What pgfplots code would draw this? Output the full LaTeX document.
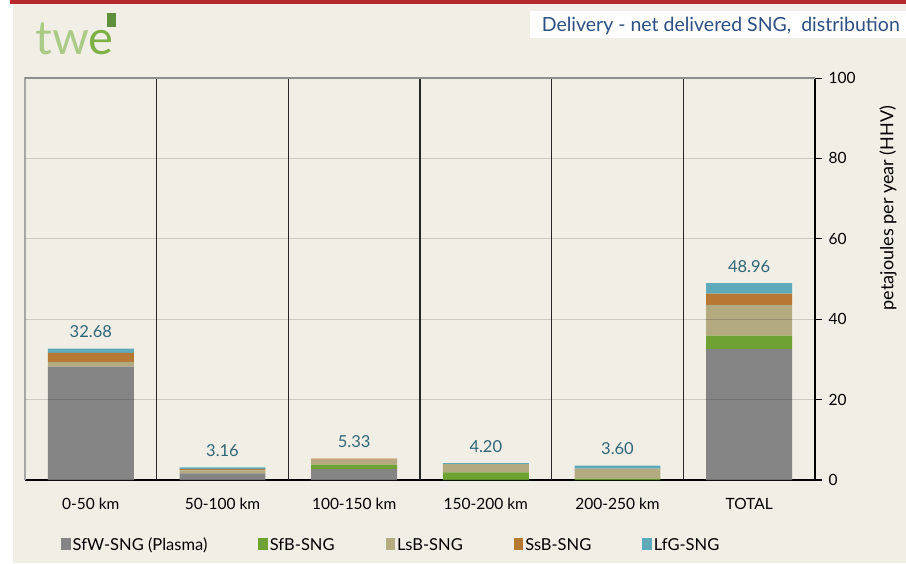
\documentclass[border=0pt]{standalone}
\usepackage{pgfplots}
\pgfplotsset{compat=1.18}
\usepackage{pgfplotstable}
\usepackage{fontspec}
\setmainfont{Lato}

\definecolor{bg}{HTML}{F1EEE6}
\definecolor{topred}{HTML}{B5282B}
\definecolor{logolight}{HTML}{AACB85}
\definecolor{logodark}{HTML}{7DB045}
\definecolor{logocube}{HTML}{5E8F3A}
\definecolor{titleblue}{HTML}{2D4F82}
\definecolor{valblue}{HTML}{2F6678}
\definecolor{sfw}{HTML}{858585}
\definecolor{sfb}{HTML}{6EA232}
\definecolor{lsb}{HTML}{B3AA80}
\definecolor{ssb}{HTML}{B77833}
\definecolor{lfg}{HTML}{5EA9BA}

\tikzset{valnode/.style={anchor=base, inner sep=0, text=valblue,
    font=\fontsize{16.5}{16.5}\selectfont, yshift=11pt}}

% net delivered SNG, PJ/yr (HHV); x = 0..4 distance bands, 5 = total
\pgfplotstableread{
x SfW   SfB  LsB  SsB  LfG
0 28.20 0    1.15 2.25 1.08
1 1.65  0    0.75 0.30 0.46
2 2.70  1.10 1.25 0.28 0
3 0     1.90 2.05 0    0.25
4 0     0.35 2.45 0    0.80
5 32.55 3.35 7.65 2.83 2.58
}\sngtable

\begin{document}
\begin{tikzpicture}[x=1pt,y=1pt]
\path[use as bounding box] (0,0) rectangle (906,563);
\fill[white] (0,0) rectangle (906,563);
\fill[bg] (13,0) rectangle (906,560);
\fill[topred] (10,559) rectangle (906,563);

% logo
\node[anchor=base west, inner sep=0, text=logolight,
      font=\fontsize{47}{47}\selectfont] at (35,508) {tw\textcolor{logodark}{e}};
\fill[logocube] (107,536) rectangle (116,550);

% title box
\fill[white] (530,525) rectangle (906,552);
\node[anchor=base east, inner sep=0, text=titleblue,
      font=\fontsize{19.5}{19.5}\selectfont] at (900,531) {Delivery - net delivered SNG,\ \ distribution};

% y label
\node[rotate=90, inner sep=0, font=\fontsize{18}{18}\selectfont] at (888,355) {petajoules per year (HHV)};

\begin{axis}[
    at={(25pt,83pt)}, anchor=south west,
    scale only axis, width=790pt, height=402pt,
    ybar stacked, bar width=0.653,
    clip=false, axis on top,
    xmin=-0.5, xmax=5.5, ymin=0, ymax=100,
    xtick={0,...,5},
    xticklabels={0-50 km, 50-100 km, 100-150 km, 150-200 km, 200-250 km, TOTAL},
    x tick style={draw=none},
    xticklabel style={yshift=-8pt},
    ytick={0,20,...,100},
    ytick pos=right, yticklabel pos=right,
    yticklabel style={xshift=3pt},
    tick align=outside, major tick length=7pt,
    y tick style={black, line width=0.9pt},
    ymajorgrids, grid style={black, opacity=0.15, line width=1.2pt},
    axis line style={draw=none},
    tick label style={font=\fontsize{15.5}{15.5}\selectfont},
    /pgf/number format/assume math mode=true,
    legend columns=5,
    legend style={at={(0.0456,-0.1617)}, anchor=west, draw=none, fill=none,
        inner sep=0pt, font=\fontsize{16.5}{16.5}\selectfont,
        /tikz/every even column/.append style={column sep=49pt}},
    legend image code/.code={\fill[#1] (0pt,-5pt) rectangle (9.5pt,7pt);},
]
\addplot[fill=sfw, draw=none] table[x=x, y=SfW] {\sngtable};
\addplot[fill=sfb, draw=none] table[x=x, y=SfB] {\sngtable};
\addplot[fill=lsb, draw=none] table[x=x, y=LsB] {\sngtable};
\addplot[fill=ssb, draw=none] table[x=x, y=SsB] {\sngtable};
\addplot[fill=lfg, draw=none] table[x=x, y=LfG] {\sngtable};
\legend{SfW-SNG (Plasma), SfB-SNG, LsB-SNG, SsB-SNG, LfG-SNG}

% frame and category separators
\draw[gray!70, line width=1.5pt] (axis cs:-0.5,0) -- (axis cs:-0.5,100) -- (axis cs:5.5,100);
\draw[black, line width=1.2pt] (axis cs:5.5,0) -- (axis cs:5.5,100);
\draw[black!85, line width=1.3pt] (axis cs:0.5,0) -- (axis cs:0.5,100);
\draw[black!85, line width=1.3pt] (axis cs:1.5,0) -- (axis cs:1.5,100);
\draw[black!85, line width=1.3pt] (axis cs:2.5,0) -- (axis cs:2.5,100);
\draw[black!85, line width=1.3pt] (axis cs:3.5,0) -- (axis cs:3.5,100);
\draw[black!85, line width=1.3pt] (axis cs:4.5,0) -- (axis cs:4.5,100);
\draw[black, line width=1.8pt] (axis cs:-0.5,0) -- ([xshift=7pt]axis cs:5.5,0);

% totals above the bars
\node[valnode] at (axis cs:0,32.68) {32.68};
\node[valnode] at (axis cs:1,3.16) {3.16};
\node[valnode] at (axis cs:2,5.33) {5.33};
\node[valnode] at (axis cs:3,4.20) {4.20};
\node[valnode] at (axis cs:4,3.60) {3.60};
\node[valnode] at (axis cs:5,48.96) {48.96};
\end{axis}
\end{tikzpicture}
\end{document}
